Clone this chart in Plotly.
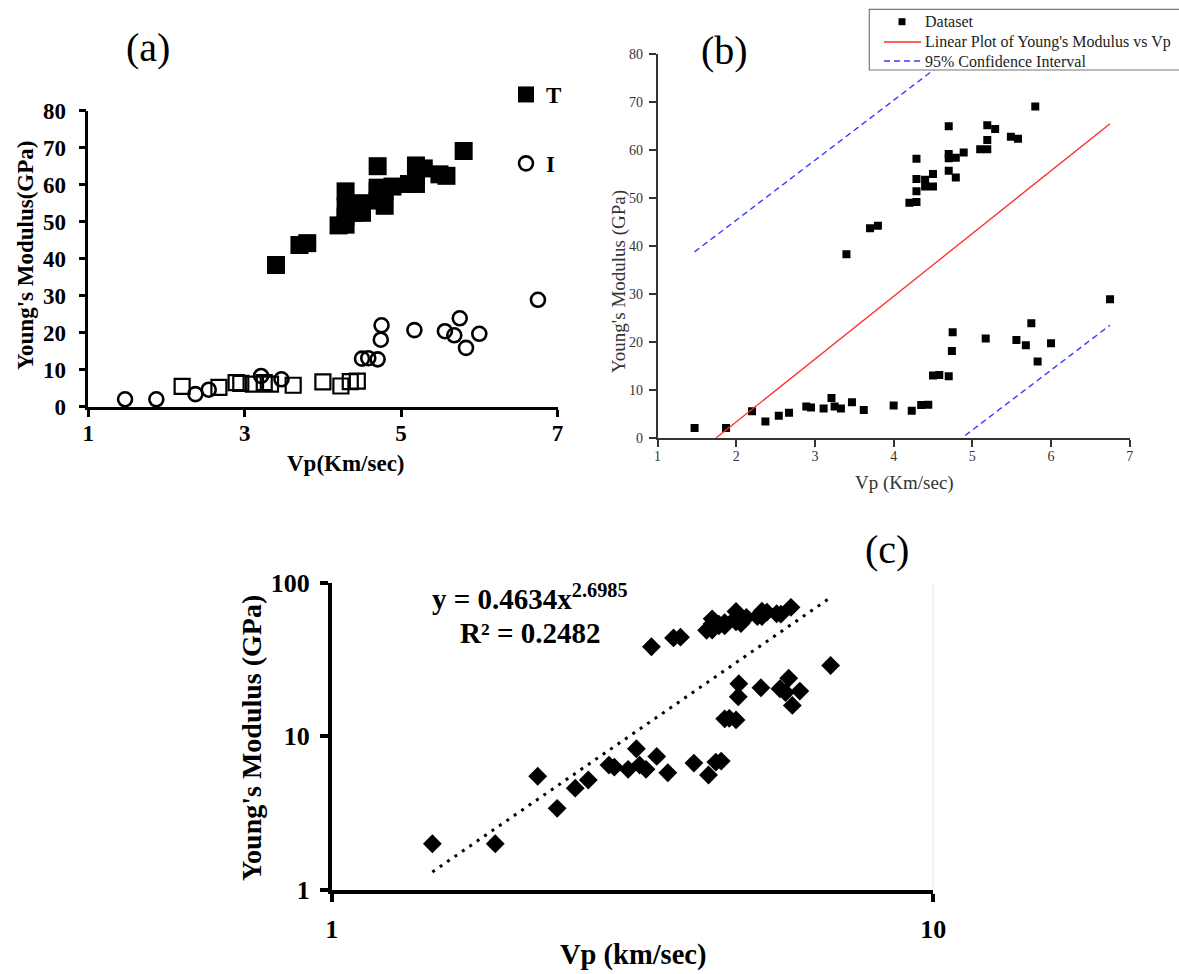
import plotly.graph_objects as go

# ---- measured Young's modulus (GPa) vs P-wave velocity Vp (km/sec) ----
# T group (upper cluster)
vp_T = [3.40, 3.70, 3.80, 4.20, 4.29, 4.29, 4.29, 4.29, 4.40, 4.40, 4.50, 4.50,
        4.70, 4.70, 4.70, 4.70, 4.79, 4.79, 4.89, 5.10, 5.19, 5.19, 5.19, 5.29,
        5.49, 5.58, 5.80]
E_T = [38.3, 43.7, 44.2, 49.0, 49.2, 51.4, 54.0, 58.2, 53.8, 52.4, 52.4, 55.0,
       55.7, 65.0, 59.2, 58.3, 58.4, 54.3, 59.5, 60.2, 60.2, 62.1, 65.2, 64.4,
       62.8, 62.4, 69.1]

# I group (open circles)
vp_I = [1.47, 1.87, 2.37, 2.54, 3.21, 3.47, 4.50, 4.58, 4.70, 4.74, 4.75, 5.17,
        5.56, 5.68, 5.75, 5.83, 6.00, 6.75]
E_I = [2.0, 2.0, 3.4, 4.6, 8.3, 7.4, 13.0, 13.1, 12.8, 18.1, 22.0, 20.7,
       20.4, 19.3, 23.9, 15.9, 19.7, 28.9]

# remaining low-modulus samples (open squares)
vp_S = [2.20, 2.67, 2.89, 2.95, 3.11, 3.25, 3.33, 3.62, 4.00, 4.23, 4.35, 4.44]
E_S = [5.5, 5.2, 6.5, 6.3, 6.1, 6.5, 6.1, 5.8, 6.7, 5.6, 6.8, 6.9]

# linear fit and 95 % confidence band (panel b)
lin_slope, lin_intercept = 13.1, -22.9
ci_slope, ci_upper_intercept, ci_lower_intercept = 12.5, 20.4, -60.9

# power-law fit (panel c)
pow_a, pow_b = 0.4634, 2.6985
pow_r2 = 0.2482

# series names for panel (b)
name_data = "Dataset"
name_lin = "Linear Plot of Young's Modulus vs Vp"
name_ci = "95% Confidence Interval"

RED = "#ff2a2a"
BLUE = "#3a3aff"
CI_DASH = "6px,4px"

W, H = 1179, 974
SERIF = "Liberation Serif"

vp_all = vp_T + vp_I + vp_S
E_all = E_T + E_I + E_S
x_lo, x_hi = min(vp_all), max(vp_all)


def px(x):
    return x / W


def py(y):
    return 1 - y / H


fig = go.Figure()

# ---------------- panel (a) ----------------
fig.add_trace(go.Scatter(
    x=vp_T, y=E_T, mode="markers", name="T", legend="legend", legendgroup="T",
    marker=dict(symbol="square", size=18, color="black"),
    cliponaxis=False, xaxis="x", yaxis="y"))
fig.add_trace(go.Scatter(
    x=vp_I, y=E_I, mode="markers", name="I", legend="legend", legendgroup="I",
    marker=dict(symbol="circle-open", size=14, color="black", line=dict(width=2.6)),
    cliponaxis=False, xaxis="x", yaxis="y"))
fig.add_trace(go.Scatter(
    x=vp_S, y=E_S, mode="markers", showlegend=False,
    marker=dict(symbol="square-open", size=15, color="black", line=dict(width=2.2)),
    cliponaxis=False, xaxis="x", yaxis="y"))

# ---------------- panel (b) ----------------
fig.add_trace(go.Scatter(
    x=vp_all, y=E_all, mode="markers", name=name_data, showlegend=False,
    marker=dict(symbol="square", size=8, color="black"),
    xaxis="x2", yaxis="y2"))
fig.add_trace(go.Scatter(
    x=[x_lo, x_hi], y=[lin_slope * x_lo + lin_intercept, lin_slope * x_hi + lin_intercept],
    mode="lines", name=name_lin, showlegend=False,
    line=dict(color=RED, width=1.3), xaxis="x2", yaxis="y2"))
fig.add_trace(go.Scatter(
    x=[x_lo, x_hi], y=[ci_slope * x_lo + ci_upper_intercept, ci_slope * x_hi + ci_upper_intercept],
    mode="lines", name=name_ci, showlegend=False,
    line=dict(color=BLUE, width=1.4, dash=CI_DASH), xaxis="x2", yaxis="y2"))
fig.add_trace(go.Scatter(
    x=[x_lo, x_hi], y=[ci_slope * x_lo + ci_lower_intercept, ci_slope * x_hi + ci_lower_intercept],
    mode="lines", name=name_ci, showlegend=False,
    line=dict(color=BLUE, width=1.4, dash=CI_DASH), xaxis="x2", yaxis="y2"))

# ---------------- panel (c) ----------------
fig.add_trace(go.Scatter(
    x=[x_lo, x_hi], y=[pow_a * x_lo ** pow_b, pow_a * x_hi ** pow_b],
    mode="lines", showlegend=False,
    line=dict(color="black", width=3, dash="3px,6px"), xaxis="x3", yaxis="y3"))
fig.add_trace(go.Scatter(
    x=vp_all, y=E_all, mode="markers", showlegend=False,
    marker=dict(symbol="diamond", size=14.5, color="black"),
    cliponaxis=False, xaxis="x3", yaxis="y3"))

bold_tick_a = dict(family=SERIF, size=23, color="black", weight="bold")
bold_tick_c = dict(family=SERIF, size=26, color="black", weight="bold")
reg_tick_b = dict(family=SERIF, size=14, color="#333333")

axis_a = dict(showline=True, linecolor="black", linewidth=2.6, ticks="outside",
              ticklen=7, tickwidth=2.6, tickcolor="black", showgrid=False,
              zeroline=False, tickfont=bold_tick_a)
axis_b = dict(showline=True, linecolor="#333333", linewidth=1.6, ticks="outside",
              ticklen=7, tickwidth=1.5, tickcolor="#333333", showgrid=False,
              zeroline=False, tickfont=reg_tick_b)
axis_c = dict(showline=True, linecolor="black", linewidth=3.6, ticks="outside",
              ticklen=8, tickwidth=3.6, tickcolor="black", showgrid=False,
              zeroline=False, tickfont=bold_tick_c, ticklabelstandoff=5)

fig.update_layout(
    width=W, height=H,
    margin=dict(l=0, r=0, t=0, b=0, autoexpand=False),
    paper_bgcolor="white", plot_bgcolor="rgba(0,0,0,0)",
    showlegend=True,
    xaxis=dict(axis_a, domain=[px(88.3), px(557.5)], range=[1, 7],
               tickvals=[1, 3, 5, 7], anchor="y", ticklabelstandoff=-3),
    yaxis=dict(axis_a, domain=[py(406.7), py(110.7)], range=[0, 80],
               tickvals=list(range(0, 81, 10)), anchor="x", ticklabelstandoff=8),
    xaxis2=dict(axis_b, domain=[px(657.6), px(1129.7)], range=[1, 7],
                tickvals=list(range(1, 8)), anchor="y2", ticklabelstandoff=-2),
    yaxis2=dict(axis_b, domain=[py(437.7), py(54.3)], range=[0, 80],
                tickvals=list(range(0, 81, 10)), anchor="x2", ticklabelstandoff=3),
    xaxis3=dict(axis_c, type="log", domain=[px(331.7), px(933.3)], range=[0, 1],
                tickvals=[1, 10], ticktext=["1", "10"], anchor="y3"),
    yaxis3=dict(axis_c, type="log", domain=[py(890), py(582.7)], range=[0, 2],
                tickvals=[1, 10, 100], ticktext=["1", "10", "100"], anchor="x3"),
    legend=dict(x=px(506), y=py(73), xanchor="left", yanchor="top",
                font=dict(family=SERIF, size=23, color="black", weight="bold"),
                bgcolor="rgba(0,0,0,0)", borderwidth=0, traceorder="grouped",
                tracegroupgap=36, itemsizing="trace"),
)

# light border on the right of the log-log plot area
fig.add_shape(type="line", xref="x3", yref="y3", x0=10, x1=10, y0=1, y1=100,
              line=dict(color="#d4d4d4", width=1.2), layer="below")

# ---- key for panel (b): framed box above the plot lines ----
def paper_shape(**kw):
    fig.add_shape(xref="paper", yref="paper", layer="above", **kw)


paper_shape(type="rect", x0=px(869.3), x1=px(1195), y0=py(70), y1=py(9.3),
            fillcolor="white", line=dict(color="#777777", width=1.2))
paper_shape(type="rect", x0=px(898.5), x1=px(905.5), y0=py(25.2), y1=py(18.2),
            fillcolor="black", line=dict(width=0))
paper_shape(type="line", x0=px(884), x1=px(921), y0=py(42), y1=py(42),
            line=dict(color=RED, width=1.3))
paper_shape(type="line", x0=px(884), x1=px(921), y0=py(61), y1=py(61),
            line=dict(color=BLUE, width=1.4, dash=CI_DASH))


def note(text, x, y, size, bold=False, color="black", angle=0, xanchor="center"):
    fig.add_annotation(text=f"<b>{text}</b>" if bold else text,
                       x=px(x), y=py(y), xref="paper", yref="paper",
                       xanchor=xanchor, yanchor="middle", showarrow=False,
                       textangle=angle, font=dict(family=SERIF, size=size, color=color))


for label, yc in [(name_data, 21.7), (name_lin, 42), (name_ci, 61)]:
    note(label, 923, yc, 16, color="#222222", xanchor="left")

# panel labels
note("(a)", 148, 48, 40)
note("(b)", 724, 50, 40)
note("(c)", 887, 549, 40)

# axis titles
note("Young's Modulus(GPa)", 25, 256, 23, bold=True, angle=-90)
note("Vp(Km/sec)", 346, 463, 23, bold=True)
note("Young's Modulus (GPa)", 619, 282, 19, color="#333333", angle=-90)
note("Vp (Km/sec)", 904, 483, 19, color="#333333")
note("Young's Modulus (GPa)", 251, 738, 28, bold=True, angle=-90)
note("Vp (km/sec)", 633, 955, 28.5, bold=True)

# fitted power-law equation
note(f"y = {pow_a}x<sup>{pow_b}</sup>", 530, 597, 29, bold=True)
note(f"R² = {pow_r2}", 530, 633, 29, bold=True)

fig.write_html("out.html")
